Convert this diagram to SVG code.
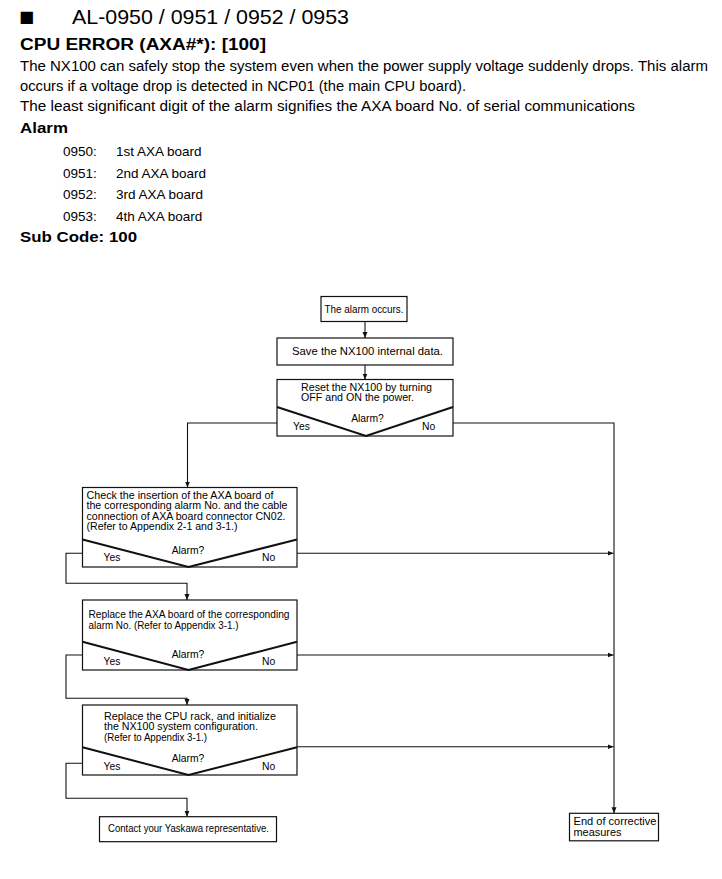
<svg xmlns="http://www.w3.org/2000/svg" width="722" height="879" viewBox="0 0 722 879">
<style>
text{font-family:"Liberation Sans",Arial,sans-serif;fill:#000}
.h1{font-size:21px}
.h2{font-size:16px;font-weight:bold}
.b{font-size:14px}
.li{font-size:13.5px}
.t{font-size:10.3px}
.c{text-anchor:middle}
.box{fill:#fff;stroke:#111;stroke-width:1.2}
.v{fill:none;stroke:#111;stroke-width:2}
.ln{fill:none;stroke:#111;stroke-width:1.1}
</style>
<defs>
<marker id="ar" markerUnits="userSpaceOnUse" markerWidth="7" markerHeight="6" refX="6" refY="3" orient="auto">
<path d="M0,0.5 L6,3 L0,5.5 z" fill="#111"/>
</marker>
</defs>
<rect width="722" height="879" fill="#fff"/>
<g id="header">
<text x="19" y="22" style="font-family:'DejaVu Sans',sans-serif;font-size:16px">■</text>
<text class="h1" x="72" y="24" textLength="277" lengthAdjust="spacingAndGlyphs">AL-0950 / 0951 / 0952 / 0953</text>
<text class="h2" x="20" y="50" textLength="246" lengthAdjust="spacingAndGlyphs">CPU ERROR (AXA#*): [100]</text>
<text class="b" x="20" y="71" textLength="688" lengthAdjust="spacingAndGlyphs">The NX100 can safely stop the system even when the power supply voltage suddenly drops.  This alarm</text>
<text class="b" x="20" y="91" textLength="446" lengthAdjust="spacingAndGlyphs">occurs if a voltage drop is detected in NCP01 (the main CPU board).</text>
<text class="b" x="20" y="111" textLength="615" lengthAdjust="spacingAndGlyphs">The least significant digit of the alarm signifies the AXA board No. of serial communications</text>
<text class="h2" x="20" y="133" style="font-size:15px" textLength="48" lengthAdjust="spacingAndGlyphs">Alarm</text>
<text class="li" x="63" y="156">0950:</text>
<text class="li" x="116" y="156">1st AXA board</text>
<text class="li" x="63" y="178">0951:</text>
<text class="li" x="116" y="178">2nd AXA board</text>
<text class="li" x="63" y="199">0952:</text>
<text class="li" x="116" y="199">3rd AXA board</text>
<text class="li" x="63" y="221">0953:</text>
<text class="li" x="116" y="221">4th AXA board</text>
<text class="h2" x="20" y="242" style="font-size:15px" textLength="117" lengthAdjust="spacingAndGlyphs">Sub Code: 100</text>
</g>
<g id="connectors">
<path class="ln" d="M365,321.5 V338" marker-end="url(#ar)"/>
<path class="ln" d="M365,365 V379.5" marker-end="url(#ar)"/>
<path class="ln" d="M277,423 H187.5 V487.5" marker-end="url(#ar)"/>
<path class="ln" d="M453,423 H614 V813.3" marker-end="url(#ar)"/>
<path class="ln" d="M82.5,553.3 H66 V583.3 H187 V600" marker-end="url(#ar)"/>
<path class="ln" d="M297,553.3 H613.5" marker-end="url(#ar)"/>
<path class="ln" d="M82.5,655 H66 V698.3 H187 V705" marker-end="url(#ar)"/>
<path class="ln" d="M297,655 H613.5" marker-end="url(#ar)"/>
<path class="ln" d="M82.5,763.3 H66 V798.3 H187 V816.7" marker-end="url(#ar)"/>
<path class="ln" d="M297,746.7 H613.5" marker-end="url(#ar)"/>
</g>
<g id="n1">
<rect class="box" x="321" y="296.5" width="86" height="25"/>
<text class="t c" x="364" y="312.5" textLength="79" lengthAdjust="spacingAndGlyphs">The alarm occurs.</text>
</g>
<g id="n2">
<rect class="box" x="277" y="338" width="176" height="27"/>
<text class="t" x="292" y="355" textLength="151" lengthAdjust="spacingAndGlyphs">Save the NX100 internal data.</text>
</g>
<g id="n3">
<rect class="box" x="277" y="379.5" width="176" height="56.5"/>
<text class="t" x="301" y="390.5" textLength="131" lengthAdjust="spacingAndGlyphs">Reset the NX100 by turning</text>
<text class="t" x="301" y="401" textLength="113" lengthAdjust="spacingAndGlyphs">OFF and ON the power.</text>
<polyline class="v" points="277,407 366,436 453,407"/>
<text class="t c" x="367.5" y="421.5">Alarm?</text>
<text class="t" x="293" y="429.5">Yes</text>
<text class="t" x="422" y="429.5">No</text>
</g>
<g id="n4">
<rect class="box" x="82.5" y="487.5" width="214.5" height="79.5"/>
<text class="t" x="86.5" y="498.5" textLength="187" lengthAdjust="spacingAndGlyphs">Check the insertion of the AXA board of</text>
<text class="t" x="86.5" y="509" textLength="201" lengthAdjust="spacingAndGlyphs">the corresponding alarm No. and the cable</text>
<text class="t" x="86.5" y="519.5" textLength="199" lengthAdjust="spacingAndGlyphs">connection of AXA board connector CN02.</text>
<text class="t" x="86.5" y="530" textLength="151" lengthAdjust="spacingAndGlyphs">(Refer to Appendix 2-1 and 3-1.)</text>
<polyline class="v" points="82.5,539.5 188.5,567 297,539.5"/>
<text class="t c" x="188" y="553.5">Alarm?</text>
<text class="t" x="103.5" y="561">Yes</text>
<text class="t" x="262" y="561">No</text>
</g>
<g id="n5">
<rect class="box" x="82.5" y="600" width="214.5" height="70"/>
<text class="t" x="88.5" y="618" textLength="201" lengthAdjust="spacingAndGlyphs">Replace the AXA board of the corresponding</text>
<text class="t" x="88.5" y="628.5" textLength="150" lengthAdjust="spacingAndGlyphs">alarm No. (Refer to Appendix 3-1.)</text>
<polyline class="v" points="82.5,641.7 188.5,670 297,641.7"/>
<text class="t c" x="188" y="657.5">Alarm?</text>
<text class="t" x="103.5" y="664.5">Yes</text>
<text class="t" x="262" y="664.5">No</text>
</g>
<g id="n6">
<rect class="box" x="82.5" y="705" width="214.5" height="70"/>
<text class="t" x="104" y="719.5" textLength="172" lengthAdjust="spacingAndGlyphs">Replace the CPU rack, and initialize</text>
<text class="t" x="104" y="730" textLength="154" lengthAdjust="spacingAndGlyphs">the NX100 system configuration.</text>
<text class="t" x="104" y="740.5" textLength="103" lengthAdjust="spacingAndGlyphs">(Refer to Appendix 3-1.)</text>
<polyline class="v" points="82.5,747.3 188.5,775 297,747.3"/>
<text class="t c" x="188" y="762">Alarm?</text>
<text class="t" x="103.5" y="769.5">Yes</text>
<text class="t" x="262" y="769.5">No</text>
</g>
<g id="n7">
<rect class="box" x="99.5" y="816.7" width="177" height="25"/>
<text class="t" x="108" y="832" textLength="161" lengthAdjust="spacingAndGlyphs">Contact your Yaskawa representative.</text>
</g>
<g id="n8">
<rect class="box" x="569.5" y="813.3" width="89" height="27.5"/>
<text class="t" x="573.5" y="825" textLength="83" lengthAdjust="spacingAndGlyphs">End of corrective</text>
<text class="t" x="573.5" y="836" textLength="48" lengthAdjust="spacingAndGlyphs">measures</text>
</g>
</svg>
